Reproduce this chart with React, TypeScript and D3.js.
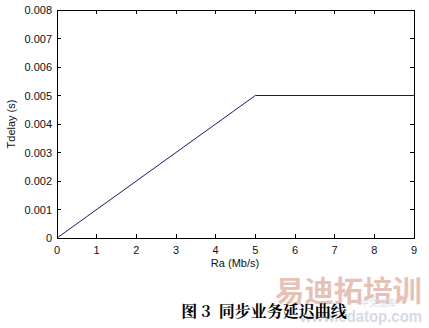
import React from "react";
import * as d3 from "d3";

const raValues = [0, 5, 9];
const delayValues = [0, 0.005, 0.005];
const xTicks = [0, 1, 2, 3, 4, 5, 6, 7, 8, 9];
const yTicks = [0, 0.001, 0.002, 0.003, 0.004, 0.005, 0.006, 0.007, 0.008];
const xLabel = "Ra (Mb/s)";
const yLabel = "Tdelay (s)";
const caption = "图 3  同步业务延迟曲线";

export default function App() {
  const W = 429, H = 328;
  const L = 57, R = 414, T = 10, B = 238;
  const x = d3.scaleLinear().domain([0, 9]).range([L, R]);
  const y = d3.scaleLinear().domain([0, 0.008]).range([B, T]);
  const pts = raValues.map((v, i) => [v, delayValues[i]] as [number, number]);
  const line = d3.line<[number, number]>().x(d => x(d[0])).y(d => y(d[1]));
  const tl = 4;
  const font = "Arial, 'Liberation Sans', sans-serif";
  return (
    <svg width={W} height={H} style={{ position: "absolute", left: 0, top: 0, background: "#fff" }}>
      <rect x={0} y={0} width={W} height={H} fill="#fff" />
      <rect x={L} y={T} width={R - L} height={B - T} fill="none" stroke="#000" strokeWidth={1} shapeRendering="crispEdges" />
      {xTicks.map(t => (
        <g key={"x" + t}>
          <line x1={x(t)} x2={x(t)} y1={B} y2={B - tl} stroke="#000" shapeRendering="crispEdges" />
          <line x1={x(t)} x2={x(t)} y1={T} y2={T + tl} stroke="#000" shapeRendering="crispEdges" />
          <text x={x(t)} y={254} textAnchor="middle" fontFamily={font} fontSize={11} fill="#111">{t}</text>
        </g>
      ))}
      {yTicks.map(t => (
        <g key={"y" + t}>
          <line x1={L} x2={L + tl} y1={y(t)} y2={y(t)} stroke="#000" shapeRendering="crispEdges" />
          <line x1={R} x2={R - tl} y1={y(t)} y2={y(t)} stroke="#000" shapeRendering="crispEdges" />
          <text x={52} y={y(t) + 4} textAnchor="end" fontFamily={font} fontSize={11} fill="#111">{t === 0 ? "0" : t.toFixed(3)}</text>
        </g>
      ))}
      <path d={line(pts) || ""} fill="none" stroke="#1a1a6e" strokeWidth={1} />
      <text x={235} y={267} textAnchor="middle" fontFamily={font} fontSize={11} fill="#111">{xLabel}</text>
      <text transform={`translate(15,${(T + B) / 2}) rotate(-90)`} textAnchor="middle" fontFamily={font} fontSize={11} fill="#111">{yLabel}</text>
      <text x={275} y={302} fontFamily="'Noto Sans CJK SC', sans-serif" fontWeight="bold" fontSize={29} fill="#e6c2b6" textLength={147} lengthAdjust="spacingAndGlyphs">易迪拓培训</text>
      <text x={360} y={306} fontFamily="'Noto Sans CJK SC', sans-serif" fontSize={9} fill="#d8dde6">中文维库</text>
      <text x={300} y={322} fontFamily={font} fontWeight="bold" fontSize={17} fill="#d3dbe6" textLength={122} lengthAdjust="spacingAndGlyphs">www.edatop.com</text>
      <text x={264} y={317} textAnchor="middle" fontFamily="'Noto Serif CJK SC', 'Noto Sans CJK SC', serif" fontWeight="bold" fontSize={16} fill="#000" xmlSpace="preserve">{caption}</text>
    </svg>
  );
}
